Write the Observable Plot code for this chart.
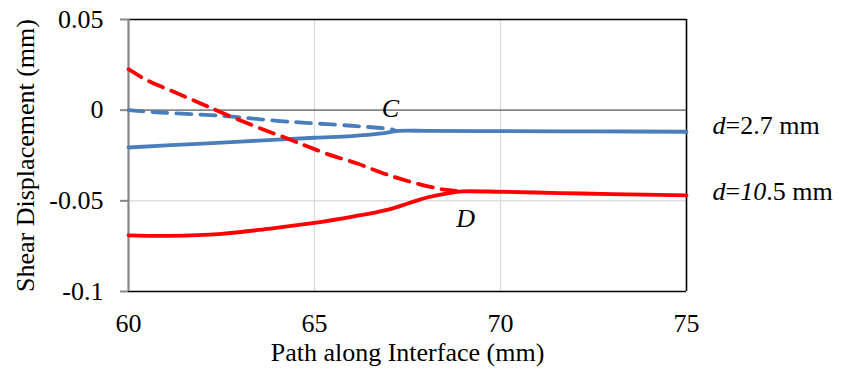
<!DOCTYPE html>
<html>
<head>
<meta charset="utf-8">
<script src="https://cdn.jsdelivr.net/npm/d3@7"></script>
<script src="https://cdn.jsdelivr.net/npm/@observablehq/plot@0.6"></script>
<style>
  html, body { margin: 0; padding: 0; background: white; }
  #chart { width: 843px; height: 376px; }
  #chart svg, #chart svg text { font-family: "Liberation Serif", "Times New Roman", serif !important; }
</style>
</head>
<body>
<div id="chart"></div>
<script>
// ---- data ----
const xTicks = [60, 65, 70, 75];
const yTicks = [-0.1, -0.05, 0, 0.05];
const yTickLabels = ["-0.1", "-0.05", "0", "0.05"];

const xTitle = "Path along Interface (mm)";
const yTitle = "Shear Displacement (mm)";

// d = 2.7 mm, dashed (blue)
const blueDashX = [60, 60.86, 62.5, 64, 65, 66, 66.7, 66.95, 67.12, 67.2];
const blueDashY = [0, -0.0013, -0.0031, -0.0059, -0.0073, -0.0086, -0.0097, -0.0101, -0.0108, -0.0116];
// d = 2.7 mm, solid (blue)
const blueSolidX = [60, 62, 63.5, 65, 66, 66.8, 67.2, 68, 70, 72.5, 75];
const blueSolidY = [-0.0206, -0.0184, -0.0168, -0.0152, -0.0143, -0.0128, -0.0115, -0.0114, -0.0116, -0.0117, -0.0119];
// d = 10.5 mm, dashed (red)
const redDashX = [60, 60.5, 61.22, 61.94, 62.56, 63.55, 64.27, 64.8, 65.43, 66.15, 66.86, 67.58, 68.44, 68.75, 68.95];
const redDashY = [0.0226, 0.0165, 0.0101, 0.0037, -0.0018, -0.0101, -0.0156, -0.0199, -0.0248, -0.0294, -0.0349, -0.0395, -0.0437, -0.0444, -0.0447];
// d = 10.5 mm, solid (red)
const redSolidX = [60, 61.1, 62.5, 63.8, 65, 66.06, 66.95, 67.49, 67.85, 68.08, 68.62, 68.98, 70, 71.6, 73, 75];
const redSolidY = [-0.0690, -0.0693, -0.0682, -0.0653, -0.0622, -0.0586, -0.0550, -0.0516, -0.0492, -0.0479, -0.0457, -0.0448, -0.0450, -0.0457, -0.0463, -0.0470];

const pointLabels = ["C", "D"];
const pointLabelX = [67.04, 69.06];
const pointLabelY = [0.0011, -0.0596];

const seriesLabels = ["d=2.7 mm", "d=10.5 mm"];
const seriesLabelY = [-0.0083, -0.0452];

// ---- build tables ----
const toRows = (xs, ys) => xs.map((x, i) => ({x, y: ys[i]}));
const blueDash = toRows(blueDashX, blueDashY);
const blueSolid = toRows(blueSolidX, blueSolidY);
const redDash = toRows(redDashX, redDashY);
const redSolid = toRows(redSolidX, redSolidY);
const pointLabelRows = pointLabels.map((t, i) => ({t, x: pointLabelX[i], y: pointLabelY[i]}));
const seriesLabelRows = seriesLabels.map((t, i) => ({t, x: 75, y: seriesLabelY[i]}));

const BLUE = "#4a7ebb";
const RED = "#ff0000";
const AXISGRAY = "#868686";
const GRID = "#d9d9d9";
const FONT = "Liberation Serif";

const chart = Plot.plot({
  width: 843,
  height: 376,
  marginLeft: 128,
  marginRight: 157,
  marginTop: 19,
  marginBottom: 85,
  style: {fontFamily: FONT, fontSize: "26px", color: "black", background: "white", overflow: "visible"},
  x: {domain: [60, 75], ticks: xTicks, label: null},
  y: {domain: [-0.1, 0.05], ticks: yTicks, label: null},
  marks: [
    Plot.gridX([65, 70], {stroke: GRID, strokeOpacity: 1, strokeWidth: 1.2}),
    Plot.gridY([-0.05], {stroke: GRID, strokeOpacity: 1, strokeWidth: 1.2}),
    Plot.ruleY([0], {stroke: AXISGRAY, strokeWidth: 1.6}),
    Plot.ruleY([0.05, -0.1], {stroke: "black", strokeWidth: 1.6}),
    Plot.ruleX([75], {stroke: "black", strokeWidth: 1.6}),
    Plot.ruleX([60], {stroke: AXISGRAY, strokeWidth: 2.2}),
    Plot.axisX({ticks: xTicks, tickSize: 0, tickPadding: 22, label: null, fontSize: 26, fontFamily: FONT}),
    Plot.axisY({ticks: yTicks, tickSize: 8, tickPadding: 17, label: null, fontSize: 26, fontFamily: FONT, stroke: AXISGRAY, strokeWidth: 2,
      tickFormat: d => yTickLabels[yTicks.indexOf(d)]}),
    Plot.line(blueSolid, {x: "x", y: "y", stroke: BLUE, strokeWidth: 3.8, curve: "catmull-rom"}),
    Plot.line(blueDash, {x: "x", y: "y", stroke: BLUE, strokeWidth: 3.8, strokeDasharray: "15,9", curve: "catmull-rom"}),
    Plot.line(redSolid, {x: "x", y: "y", stroke: RED, strokeWidth: 3.8, curve: "catmull-rom"}),
    Plot.line(redDash, {x: "x", y: "y", stroke: RED, strokeWidth: 3.8, strokeDasharray: "15,9", curve: "catmull-rom"}),
    Plot.text(pointLabelRows, {x: "x", y: "y", text: "t", fontStyle: "italic", fontSize: 26, fontFamily: FONT, fill: "black"}),
    Plot.text(seriesLabelRows, {x: "x", y: "y", text: "t", textAnchor: "start", dx: 26, fontSize: 26, fontFamily: FONT, fill: "black"}),
    Plot.text([xTitle], {frameAnchor: "bottom", dy: 69, text: d => d, fontSize: 26, fontFamily: FONT, fill: "black"}),
    Plot.text([yTitle], {frameAnchor: "left", textAnchor: "middle", dx: -103, rotate: -90, text: d => d, fontSize: 26, fontFamily: FONT, fill: "black"})
  ]
});

// Mixed italic styling for the series labels
d3.select(chart).selectAll("text").each(function() {
  const el = d3.select(this);
  const t = el.text();
  if (t === "d=2.7 mm") {
    el.text(null);
    el.append("tspan").attr("font-style", "italic").text("d");
    el.append("tspan").text("=2.7 mm");
  } else if (t === "d=10.5 mm") {
    el.text(null);
    el.append("tspan").attr("font-style", "italic").text("d");
    el.append("tspan").text("=");
    el.append("tspan").attr("font-style", "italic").text("10");
    el.append("tspan").text(".5 mm");
  }
});

document.getElementById("chart").appendChild(chart);
</script>
</body>
</html>
